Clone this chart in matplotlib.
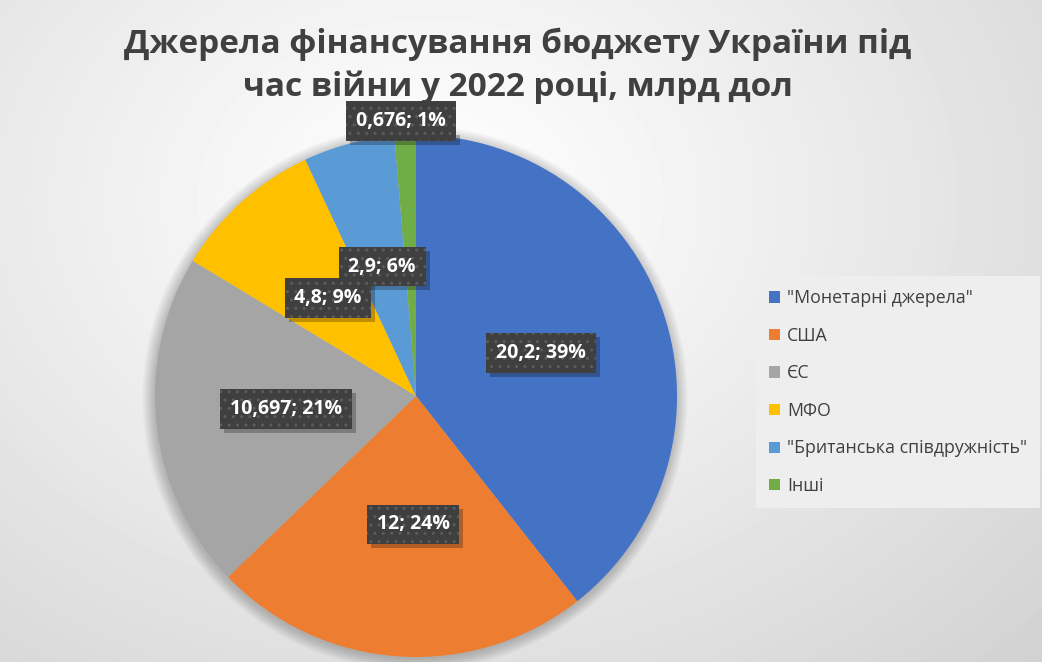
import numpy as np
import matplotlib
matplotlib.use("Agg")
import matplotlib.pyplot as plt
from matplotlib.patches import Circle, Rectangle

plt.rcParams["font.family"] = ["Open Sans", "DejaVu Sans"]

# data
sources = ['"Монетарні джерела"', "США", "ЄС", "МФО", '"Британська співдружність"', "Інші"]
values = [20.2, 12, 10.697, 4.8, 2.9, 0.676]
labels = ["20,2; 39%", "12; 24%", "10,697; 21%", "4,8; 9%", "2,9; 6%", "0,676; 1%"]
colors = ["#4472C4", "#ED7D31", "#A5A5A5", "#FFC000", "#5B9BD5", "#70AD47"]
# label centres relative to pie centre (in radii)
label_pos = [(0.479, 0.165), (-0.011, -0.492), (-0.498, -0.050),
             (-0.337, 0.375), (-0.130, 0.496), (-0.057, 1.054)]

W, H = 1042, 662
fig = plt.figure(figsize=(W / 100, H / 100), dpi=100)

# soft radial background
bg = fig.add_axes([0, 0, 1, 1], zorder=0)
yy, xx = np.mgrid[0:H, 0:W]
d = np.sqrt(((xx - 430) / 900.0) ** 2 + ((yy - 200) / 700.0) ** 2)
shade = 1 - 0.19 * np.clip(d, 0, 1.2) ** 1.1
bg.imshow(shade, cmap="gray", vmin=0, vmax=1, aspect="auto", extent=(0, W, H, 0))
bg.axis("off")

# pie, centre (416, 396) px, radius 261 px
cx, cy, R = 416, 396, 261
ax = fig.add_axes([(cx - R) / W, (H - cy - R) / H, 2 * R / W, 2 * R / H], zorder=1)

for k in range(14):
    ax.add_patch(Circle((-0.004, -0.008), 1.0 + 0.0035 * k, fc="black", ec="none",
                        alpha=0.016, zorder=0, clip_on=False))

wedges, _ = ax.pie(values, colors=colors, startangle=90, counterclock=False, radius=1,
                   wedgeprops=dict(linewidth=0))
ax.set_xlim(-1, 1); ax.set_ylim(-1, 1); ax.set_aspect("equal"); ax.axis("off")

texts = []
for txt, (lx, ly) in zip(labels, label_pos):
    t = ax.text(lx, ly, txt, ha="center", va="center", fontsize=14, fontweight="bold",
                color="white", zorder=5, clip_on=False,
                bbox=dict(boxstyle="square,pad=0.5", fc="#3F3F3F", ec="#5C5C5C", lw=0, hatch=".."))
    texts.append(t)

fig.text(518 / W, 1 - 66 / H, "Джерела фінансування бюджету України під\nчас війни у 2022 році, млрд дол",
         ha="center", va="center", fontsize=24, fontweight="bold", color="#404040",
         linespacing=1.35, zorder=3)

leg = fig.legend(wedges, sources, loc="upper left", bbox_to_anchor=(747 / W, 1 - 267 / H),
                 frameon=True, fancybox=False, fontsize=12.8, handlelength=0.6, handleheight=0.6,
                 handletextpad=0.4, labelspacing=1.1, borderpad=0.75, labelcolor="#404040")
leg.get_frame().set_facecolor("#EEEEEE")
leg.get_frame().set_edgecolor("none")
leg.get_frame().set_alpha(1)
leg.set_zorder(3)

# drop shadows under the data-label boxes
fig.canvas.draw()
for t in texts:
    bb = t.get_bbox_patch().get_window_extent()
    ax.add_artist(Rectangle((bb.x0 + 4, bb.y0 - 4), bb.width, bb.height, transform=None,
                            fc="black", ec="none", alpha=0.25, zorder=4))

fig.savefig("out.png", dpi=100)
